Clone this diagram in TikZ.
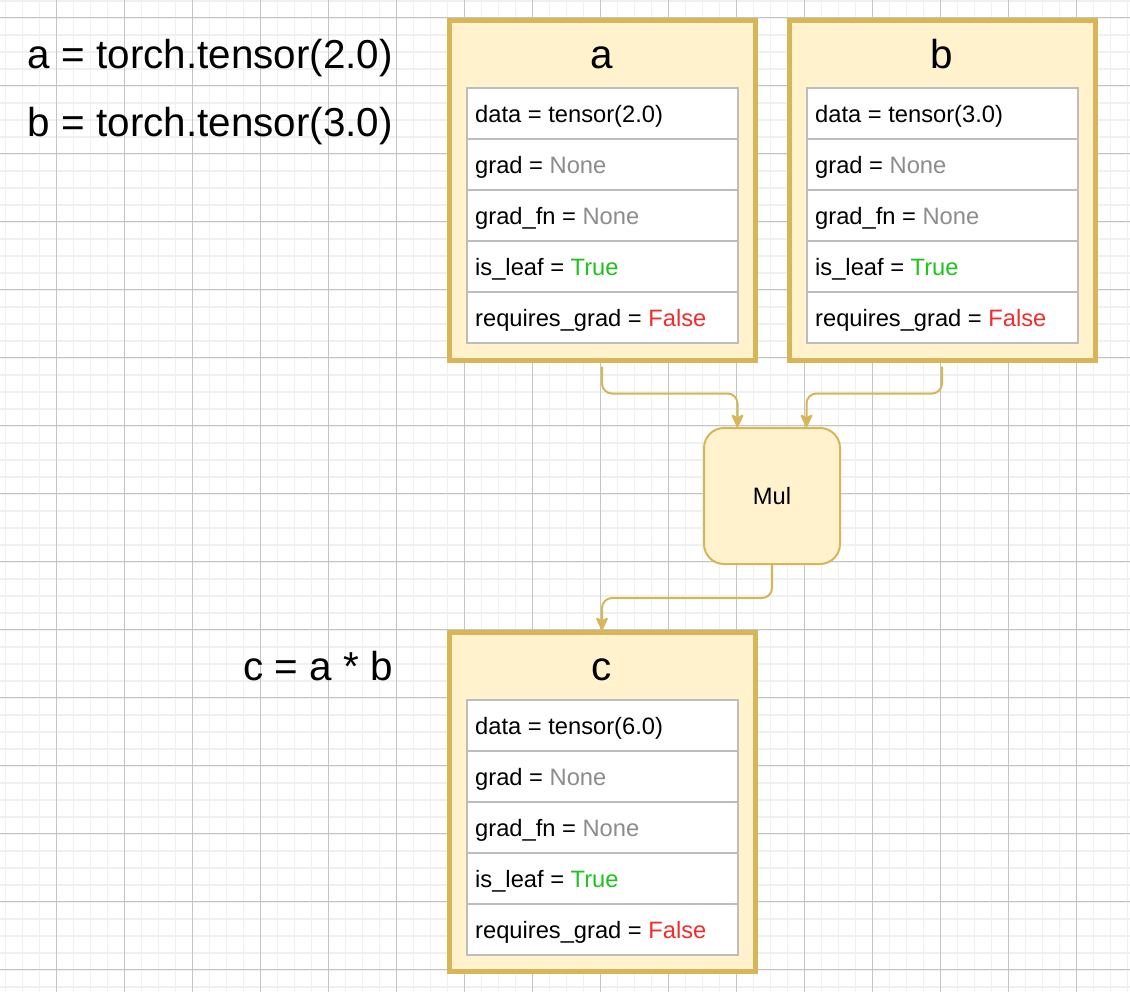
\documentclass[tikz,border=0pt]{standalone}
\usepackage{fontspec}
\setmainfont{Liberation Sans}
\usetikzlibrary{arrows.meta,calc}

\definecolor{cardfill}{HTML}{FFF2CC}
\definecolor{cardline}{HTML}{D6B656}
\definecolor{cellline}{HTML}{BDBDBD}
\definecolor{gridminor}{HTML}{F0F0F0}
\definecolor{gridmajor}{HTML}{C4C4C4}
\definecolor{valnone}{HTML}{8C8C8C}
\definecolor{valtrue}{HTML}{1EC31E}
\definecolor{valfalse}{HTML}{F22C2C}

\newcommand\bigfont{\fontsize{40.4}{48}\selectfont}
\newcommand\cellfont{\fontsize{23.7}{28}\selectfont}

% One tensor card: name, left x, top y, title, data value
\newcommand\tensorcard[5]{%
  \node[card, anchor=north west] (#1) at (#2,#3) {};
  \node[cardtitle] (#1-title) at ($(#1.north west)+(153,48)$) {#4};
  \draw[cellbox] ($(#1.north west)+(18,67)$) rectangle ($(#1.north west)+(289,322)$);
  \foreach \r in {118,169,220,271}
    \draw[cellbox] ($(#1.north west)+(18,\r)$) -- ++(271,0);
  \node[cell] (#1-data)   at ($(#1.north west)+(26,101.8)$) {data = tensor(#5)};
  \node[cell] (#1-grad)   at ($(#1.north west)+(26,152.8)$) {grad = \textcolor{valnone}{None}};
  \node[cell] (#1-gradfn) at ($(#1.north west)+(26,203.8)$) {grad\_fn = \textcolor{valnone}{None}};
  \node[cell] (#1-leaf)   at ($(#1.north west)+(26,254.8)$) {is\_leaf = \textcolor{valtrue}{True}};
  \node[cell] (#1-req)    at ($(#1.north west)+(26,305.8)$) {requires\_grad = \textcolor{valfalse}{False}};
}

\begin{document}
\begin{tikzpicture}[
  x=1pt, y=-1pt,
  card/.style={draw=cardline, fill=cardfill, line width=5pt, outer sep=0pt,
    minimum width=306pt, minimum height=339pt, inner sep=0pt},
  cardtitle/.style={anchor=base, inner sep=0pt, font=\bigfont},
  cellbox/.style={draw=cellline, fill=white, line width=2pt},
  cell/.style={anchor=base west, inner sep=0pt, font=\cellfont},
  code/.style={anchor=base east, inner sep=0pt, font=\bigfont},
  mulbox/.style={draw=cardline, fill=cardfill, line width=2pt, rounded corners=20pt,
    minimum width=136pt, minimum height=136pt, font=\cellfont},
  flow/.style={draw=cardline, line width=2pt, rounded corners=10pt,
    -{Stealth[length=15pt,width=14pt,inset=4pt,round]}},
]
\useasboundingbox (0,0) rectangle (1130,992);
\fill[white] (0,0) rectangle (1130,992);

% background grid
\begin{scope}
  \clip (0,0) rectangle (1130,992);
  \foreach \k in {0,...,66}
    \draw[gridminor, line width=1.7pt] ({5.5+17*\k},0) -- ({5.5+17*\k},992);
  \foreach \k in {0,...,58}
    \draw[gridminor, line width=1.7pt] (0,{0.7+17*\k}) -- (1130,{0.7+17*\k});
  \foreach \k in {0,...,15}
    \draw[gridmajor, line width=1pt] ({56.5+68*\k},0) -- ({56.5+68*\k},992);
  \foreach \k in {0,...,14}
    \draw[gridmajor, line width=1pt] (0,{17.7+68*\k}) -- (1130,{17.7+68*\k});
\end{scope}

% source lines
\node[code] (lineA) at (393,69) {a = torch.tensor(2.0)};
\node[code] (lineB) at (393,136.5) {b = torch.tensor(3.0)};
\node[code] (lineC) at (393,680.5) {c = a * b};

% tensors
\tensorcard{a}{449}{21}{a}{2.0}
\tensorcard{b}{789}{21}{b}{3.0}
\tensorcard{c}{449}{632.5}{c}{6.0}

% operation
\node[mulbox] (mul) at (772,496) {Mul};

% graph edges
\draw[flow, shorten <=6.5pt] (a.south) -- ++(0,33.5)
  -| ($(mul.north west)!0.25!(mul.north east)$);
\draw[flow, shorten <=6.5pt] (b.south) -- ++(0,33.5)
  -| ($(mul.north west)!0.75!(mul.north east)$);
\draw[flow, shorten >=2.5pt] (mul.south) -- ++(0,33) -| (c.north);
\end{tikzpicture}
\end{document}
